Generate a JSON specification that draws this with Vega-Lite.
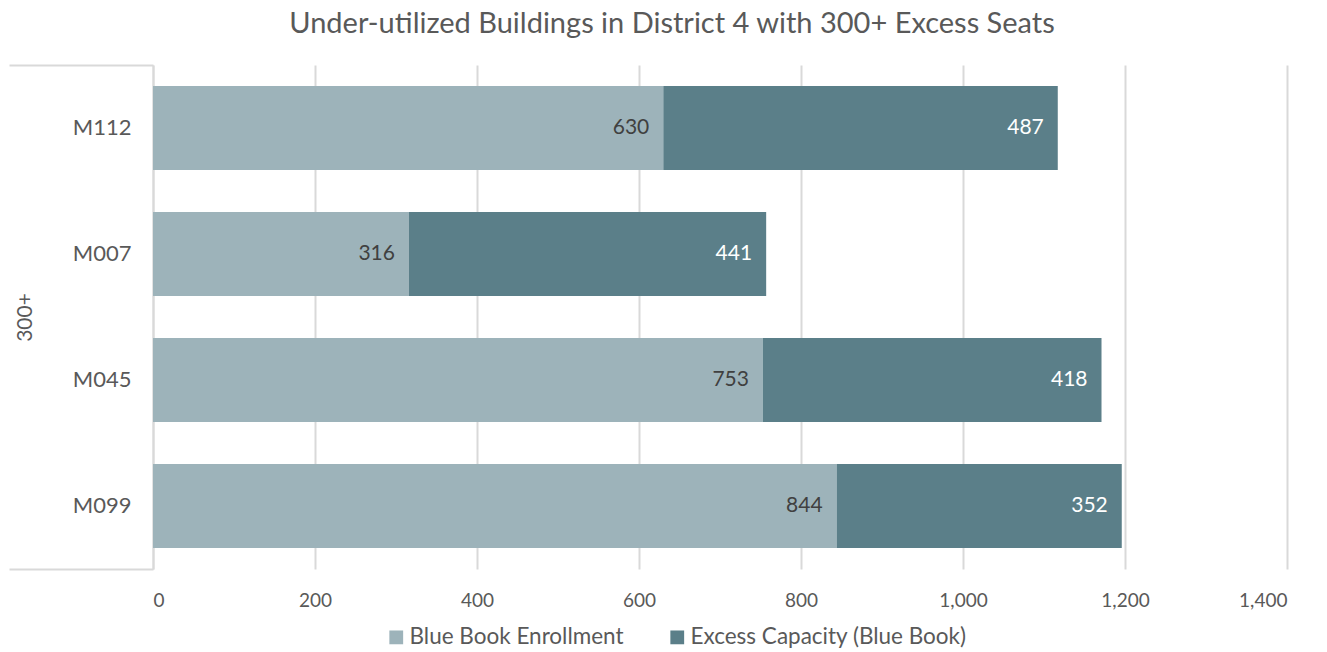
{
  "$schema": "https://vega.github.io/schema/vega-lite/v6.json",
  "width": 1134,
  "height": 504,
  "autosize": {"type": "none"},
  "padding": {"left": 153, "top": 65, "right": 40, "bottom": 83},
  "background": "white",
  "config": {"font": "Lato", "view": {"stroke": null}},
  "title": {
    "text": "Under-utilized Buildings in District 4 with 300+ Excess Seats",
    "fontSize": 29,
    "fontWeight": "normal",
    "color": "#595959",
    "anchor": "middle",
    "frame": "group",
    "dx": -48,
    "offset": 25
  },
  "data": {
    "values": [
      {"building": "M112", "series": "Blue Book Enrollment", "value": 630, "group": "300+"},
      {"building": "M112", "series": "Excess Capacity (Blue Book)", "value": 487, "group": "300+"},
      {"building": "M007", "series": "Blue Book Enrollment", "value": 316, "group": "300+"},
      {"building": "M007", "series": "Excess Capacity (Blue Book)", "value": 441, "group": "300+"},
      {"building": "M045", "series": "Blue Book Enrollment", "value": 753, "group": "300+"},
      {"building": "M045", "series": "Excess Capacity (Blue Book)", "value": 418, "group": "300+"},
      {"building": "M099", "series": "Blue Book Enrollment", "value": 844, "group": "300+"},
      {"building": "M099", "series": "Excess Capacity (Blue Book)", "value": 352, "group": "300+"}
    ]
  },
  "layer": [
    {
      "layer": [
        {
          "mark": {"type": "bar"},
          "encoding": {
            "y": {
              "field": "building",
              "type": "nominal",
              "sort": ["M112", "M007", "M045", "M099"],
              "scale": {"paddingInner": 0.333, "paddingOuter": 0.167},
              "axis": {
                "title": null,
                "domain": false,
                "ticks": false,
                "labelFontSize": 22,
                "labelColor": "#595959",
                "labelPadding": 22
              }
            },
            "x": {
              "field": "value",
              "type": "quantitative",
              "stack": "zero",
              "scale": {"domain": [0, 1400], "nice": false},
              "axis": {
                "title": null,
                "values": [0, 200, 400, 600, 800, 1000, 1200, 1400],
                "format": ",.0f",
                "grid": true,
                "gridColor": "#d9d9d9",
                "gridWidth": 2,
                "domain": false,
                "ticks": false,
                "labelFontSize": 19,
                "labelColor": "#595959",
                "labelPadding": 22
              }
            },
            "color": {
              "field": "series",
              "type": "nominal",
              "scale": {
                "domain": ["Blue Book Enrollment", "Excess Capacity (Blue Book)"],
                "range": ["#9db3ba", "#5b7f89"]
              },
              "legend": {
                "orient": "none",
                "legendX": 232,
                "legendY": 561,
                "direction": "horizontal",
                "title": null,
                "symbolType": "square",
                "symbolSize": 190,
                "symbolStrokeWidth": 0,
                "labelFontSize": 22.5,
                "labelLimit": 400,
                "labelColor": "#595959",
                "labelOffset": 2,
                "columnPadding": 42
              }
            },
            "order": {"field": "series", "sort": "ascending"}
          }
        },
        {
          "mark": {"type": "text", "align": "right", "baseline": "middle", "dx": -14, "fontSize": 21},
          "encoding": {
            "y": {
              "field": "building",
              "type": "nominal",
              "sort": ["M112", "M007", "M045", "M099"]
            },
            "x": {"field": "value", "type": "quantitative", "stack": "zero"},
            "detail": {"field": "series"},
            "order": {"field": "series", "sort": "ascending"},
            "text": {"field": "value", "type": "quantitative"},
            "color": {
              "condition": {"test": "datum.series === 'Blue Book Enrollment'", "value": "#404040"},
              "value": "white"
            }
          }
        }
      ]
    },
    {
      "mark": {"type": "rule", "opacity": 0},
      "encoding": {
        "y": {
          "field": "group",
          "type": "nominal",
          "scale": {"paddingInner": 0, "paddingOuter": 0},
          "axis": {
            "orient": "left",
            "title": null,
            "domain": true,
            "domainColor": "#d9d9d9",
            "domainWidth": 2,
            "ticks": true,
            "tickBand": "extent",
            "tickSize": 144,
            "tickColor": "#d9d9d9",
            "tickWidth": 2,
            "labelAngle": -90,
            "labelPadding": -26,
            "labelFontSize": 21,
            "labelColor": "#595959",
            "grid": false
          }
        }
      }
    }
  ],
  "resolve": {"scale": {"y": "independent"}}
}
